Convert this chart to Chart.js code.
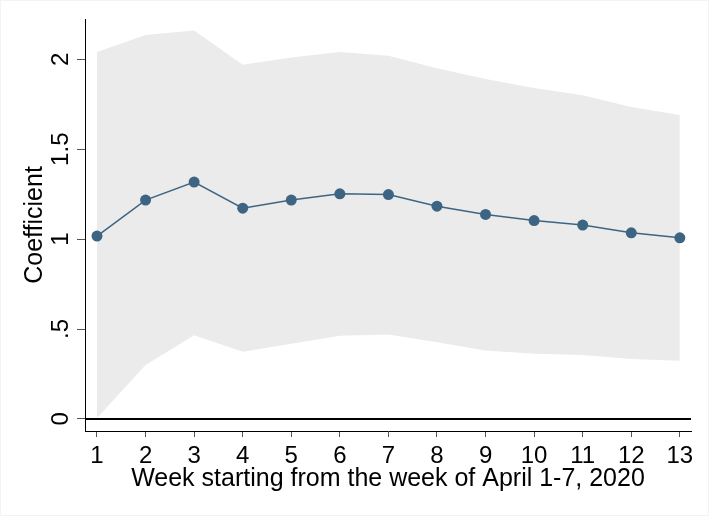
<!DOCTYPE html>
<html>
<head>
<meta charset="utf-8">
<script src="https://cdn.jsdelivr.net/npm/chart.js@4/dist/chart.umd.min.js"></script>
<style>
  html, body { margin: 0; padding: 0; background: #fff; }
  #wrap { width: 709px; height: 516px; }
</style>
</head>
<body>
<div id="wrap"><canvas id="chart"></canvas></div>
<script>
// weeks since the week of April 1-7, 2020
const weeks = [1, 2, 3, 4, 5, 6, 7, 8, 9, 10, 11, 12, 13];
const coef = [1.017, 1.217, 1.317, 1.172, 1.217, 1.252, 1.248, 1.183, 1.137, 1.103, 1.078, 1.035, 1.007];
const upper = [2.04, 2.135, 2.16, 1.97, 2.01, 2.04, 2.02, 1.95, 1.89, 1.84, 1.80, 1.735, 1.69];
const lower = [0.005, 0.30, 0.465, 0.374, 0.418, 0.463, 0.47, 0.426, 0.381, 0.363, 0.355, 0.333, 0.324];

const yTicks = [0, 0.5, 1, 1.5, 2];
const yTickLabels = ['0', '.5', '1', '1.5', '2'];

const FONT = 'Liberation Sans, Arial, Helvetica, sans-serif';
const lineColor = '#3d6583';

function toPoints(vals) {
    return weeks.map((w, i) => ({ x: w, y: vals[i] }));
}

// zero reference line + rotated y tick labels + faint frame
const extras = {
    id: 'extras',
    afterDatasetsDraw(chart) {
        const ctx = chart.ctx;
        const x = chart.scales.x;
        const y = chart.scales.y;
        const y0 = y.getPixelForValue(0);
        ctx.save();
        ctx.strokeStyle = '#000';
        ctx.lineWidth = 2;
        ctx.beginPath();
        ctx.moveTo(x.left, y0);
        ctx.lineTo(x.right, y0);
        ctx.stroke();
        ctx.restore();
    },
    afterDraw(chart) {
        const ctx = chart.ctx;
        const y = chart.scales.y;
        ctx.save();
        ctx.fillStyle = '#000';
        ctx.font = '24px ' + FONT;
        ctx.textAlign = 'center';
        ctx.textBaseline = 'middle';
        yTicks.forEach((v, i) => {
            const py = y.getPixelForValue(v);
            ctx.save();
            ctx.translate(61, py);
            ctx.rotate(-Math.PI / 2);
            ctx.fillText(yTickLabels[i], 0, 0);
            ctx.restore();
        });
        ctx.strokeStyle = '#f3f3f3';
        ctx.lineWidth = 1;
        ctx.strokeRect(0.5, 0.5, chart.width - 1, chart.height - 1);
        ctx.restore();
    }
};

new Chart(document.getElementById('chart'), {
    type: 'line',
    data: {
        datasets: [
            {
                label: 'upper',
                data: toPoints(upper),
                borderWidth: 0,
                pointRadius: 0,
                backgroundColor: '#ebebeb',
                fill: '+1',
                order: 2
            },
            {
                label: 'lower',
                data: toPoints(lower),
                borderWidth: 0,
                pointRadius: 0,
                backgroundColor: '#ebebeb',
                fill: false,
                order: 2
            },
            {
                label: 'Coefficient',
                data: toPoints(coef),
                borderColor: lineColor,
                borderWidth: 1.5,
                pointRadius: 5.5,
                pointBackgroundColor: lineColor,
                pointBorderColor: lineColor,
                pointBorderWidth: 0,
                fill: false,
                order: 1
            }
        ]
    },
    options: {
        responsive: true,
        maintainAspectRatio: false,
        animation: false,
        events: [],
        layout: { padding: { top: 19, right: 18, left: 0, bottom: 0 } },
        plugins: {
            legend: { display: false },
            tooltip: { enabled: false }
        },
        scales: {
            x: {
                type: 'linear',
                min: 0.753,
                max: 13.23,
                afterBuildTicks: s => { s.ticks = weeks.map(v => ({ value: v })); },
                afterFit: s => { s.height = 85; },
                ticks: {
                    autoSkip: false,
                    maxRotation: 0,
                    padding: 5,
                    color: '#000',
                    font: { family: FONT, size: 24 },
                    callback: v => String(v)
                },
                grid: {
                    display: true,
                    drawOnChartArea: false,
                    drawTicks: true,
                    tickLength: 6,
                    color: '#555',
                    lineWidth: 1
                },
                border: { display: true, color: '#000', width: 1 },
                title: {
                    display: true,
                    text: 'Week starting from the week of April 1-7, 2020',
                    color: '#000',
                    font: { family: FONT, size: 25 },
                    padding: { top: 0, bottom: 22 }
                }
            },
            y: {
                type: 'linear',
                min: -0.067,
                max: 2.224,
                afterBuildTicks: s => { s.ticks = yTicks.map(v => ({ value: v })); },
                afterFit: s => { s.width = 85; },
                ticks: { display: false },
                grid: {
                    display: true,
                    drawOnChartArea: false,
                    drawTicks: true,
                    tickLength: 8,
                    color: '#555',
                    lineWidth: 1
                },
                border: { display: true, color: '#000', width: 1 },
                title: {
                    display: true,
                    text: 'Coefficient',
                    color: '#000',
                    font: { family: FONT, size: 25 },
                    padding: { top: 20, bottom: 0 }
                }
            }
        }
    },
    plugins: [extras]
});
</script>
</body>
</html>
